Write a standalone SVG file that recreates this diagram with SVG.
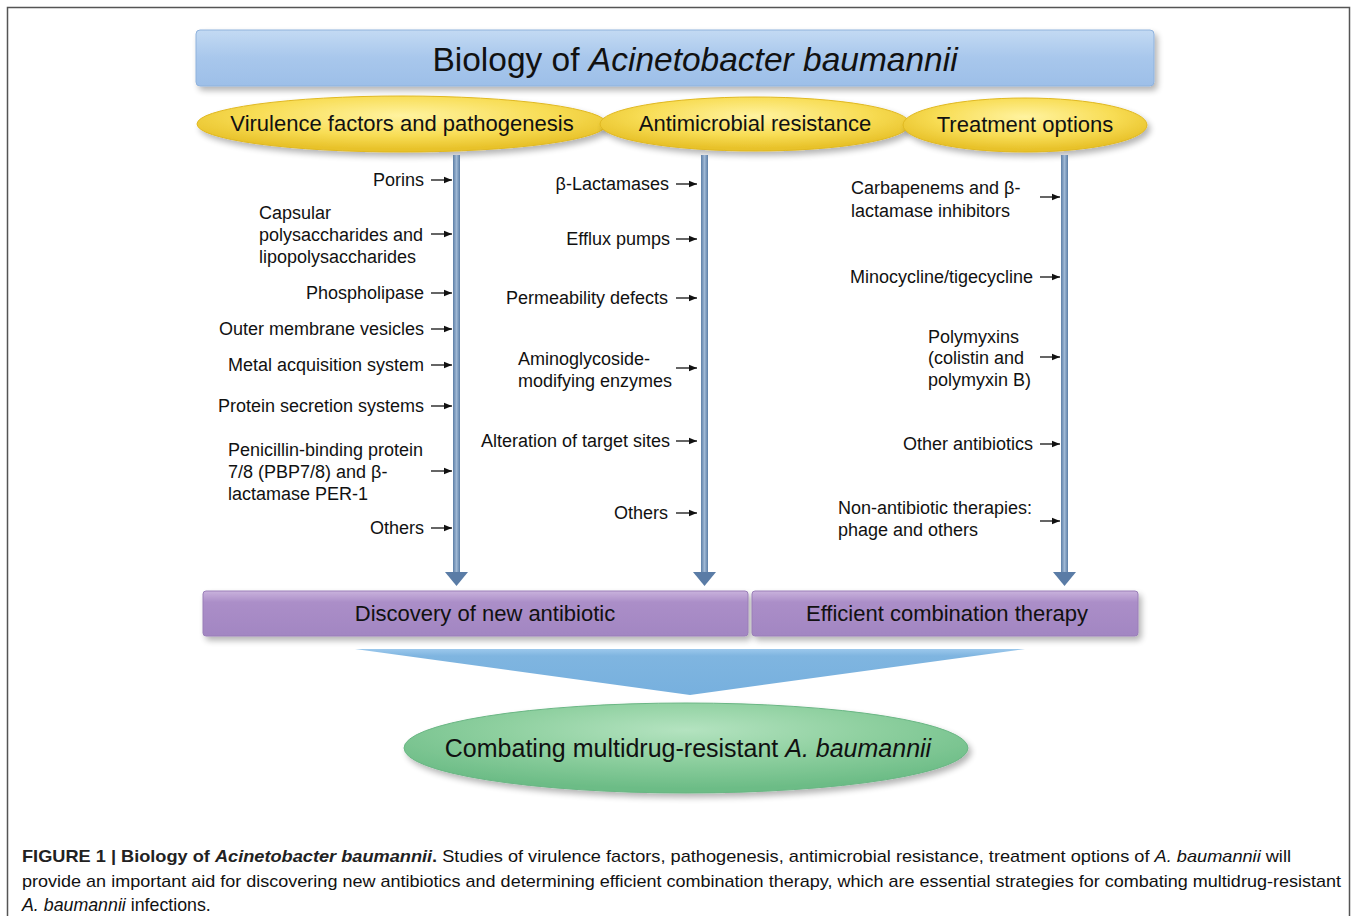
<svg xmlns="http://www.w3.org/2000/svg" width="1358" height="916" viewBox="0 0 1358 916">
<defs>
<linearGradient id="gTitle" x1="0" y1="0" x2="0" y2="1">
<stop offset="0" stop-color="#c3daf3"/><stop offset="0.5" stop-color="#a8c7ec"/><stop offset="1" stop-color="#9dbfe8"/>
</linearGradient>
<radialGradient id="gYellow" cx="0.5" cy="0.35" r="0.6">
<stop offset="0" stop-color="#fff3a0"/><stop offset="0.6" stop-color="#f8dd55"/><stop offset="1" stop-color="#e8c22a"/>
</radialGradient>
<linearGradient id="gPurple" x1="0" y1="0" x2="0" y2="1">
<stop offset="0" stop-color="#c9b2dc"/><stop offset="0.25" stop-color="#ab8ec8"/><stop offset="1" stop-color="#a286c2"/>
</linearGradient>
<radialGradient id="gGreen" cx="0.5" cy="0.3" r="0.65">
<stop offset="0" stop-color="#b4e3c0"/><stop offset="0.5" stop-color="#8fd0a0"/><stop offset="1" stop-color="#6cbc86"/>
</radialGradient>
<linearGradient id="gFunnel" x1="0" y1="0" x2="0" y2="1">
<stop offset="0" stop-color="#9cc8ec"/><stop offset="0.15" stop-color="#7fb5e0"/><stop offset="1" stop-color="#77b0de"/>
</linearGradient>
<linearGradient id="gShaft" x1="0" y1="0" x2="1" y2="0">
<stop offset="0" stop-color="#5c7ea6"/><stop offset="0.5" stop-color="#9fb8d4"/><stop offset="1" stop-color="#5c7ea6"/>
</linearGradient>
<filter id="sh" x="-10%" y="-30%" width="120%" height="170%">
<feGaussianBlur in="SourceAlpha" stdDeviation="3"/>
<feOffset dx="3" dy="4" result="b"/>
<feComponentTransfer><feFuncA type="linear" slope="0.3"/></feComponentTransfer>
<feMerge><feMergeNode/><feMergeNode in="SourceGraphic"/></feMerge>
</filter>
<marker id="ah" viewBox="0 0 10 10" refX="10" refY="5" markerWidth="8" markerHeight="8" markerUnits="userSpaceOnUse" orient="auto">
<path d="M0,1 L10,5 L0,9 z" fill="#111"/>
</marker>
</defs>
<style>
text{font-family:"Liberation Sans",Arial,sans-serif;fill:#111}
.it{font-size:18px}
.hd{font-size:22px;text-anchor:middle}
.sm{stroke:#111;stroke-width:1.3;fill:none}
.cap{font-size:17px;fill:#333}
</style>

<path d="M7.5,916 V7.5 H1349.5 V916" fill="none" stroke="#555" stroke-width="1.5"/>

<g id="title">
<rect x="196" y="30" width="958" height="56" rx="4" fill="url(#gTitle)" stroke="#8fb2dc" filter="url(#sh)"/>
<text x="695" y="71" font-size="33.5" text-anchor="middle">Biology of <tspan font-style="italic">Acinetobacter baumannii</tspan></text>
</g>

<g id="virulence">
<ellipse cx="402" cy="124" rx="205" ry="28" fill="url(#gYellow)" stroke="#e0b820" filter="url(#sh)"/>
<text class="hd" x="402" y="131">Virulence factors and pathogenesis</text>
</g>
<g id="resistance">
<ellipse cx="755" cy="124" rx="155" ry="27" fill="url(#gYellow)" stroke="#e0b820" filter="url(#sh)"/>
<text class="hd" x="755" y="131">Antimicrobial resistance</text>
</g>
<g id="treatment">
<ellipse cx="1025" cy="125" rx="122" ry="27" fill="url(#gYellow)" stroke="#e0b820" filter="url(#sh)"/>
<text class="hd" x="1025" y="132">Treatment options</text>
</g>

<g id="connectors">
<rect x="453" y="155" width="7" height="420" fill="url(#gShaft)"/>
<path d="M445,572 L468,572 L456.5,586 z" fill="#5a7ca6"/>
<rect x="701" y="155" width="7" height="420" fill="url(#gShaft)"/>
<path d="M693,572 L716,572 L704.5,586 z" fill="#5a7ca6"/>
<rect x="1061" y="155" width="7" height="420" fill="url(#gShaft)"/>
<path d="M1053,572 L1076,572 L1064.5,586 z" fill="#5a7ca6"/>

<g class="sm" marker-end="url(#ah)">
<path d="M431,180 H452"/>
<path d="M431,234 H452"/>
<path d="M431,293 H452"/>
<path d="M431,329 H452"/>
<path d="M431,365 H452"/>
<path d="M431,406 H452"/>
<path d="M431,471 H452"/>
<path d="M431,528 H452"/>

<path d="M676,184 H697"/>
<path d="M676,239 H697"/>
<path d="M676,298 H697"/>
<path d="M676,368 H697"/>
<path d="M676,441 H697"/>
<path d="M676,513 H697"/>

<path d="M1040,197 H1060"/>
<path d="M1040,277 H1060"/>
<path d="M1040,357 H1060"/>
<path d="M1040,444 H1060"/>
<path d="M1040,521 H1060"/>
</g>
</g>

<g id="col1-items" class="it">
<text x="424" y="186" text-anchor="end">Porins</text>
<text x="259" y="219">Capsular</text>
<text x="259" y="241">polysaccharides and</text>
<text x="259" y="263">lipopolysaccharides</text>
<text x="424" y="299" text-anchor="end">Phospholipase</text>
<text x="424" y="335" text-anchor="end">Outer membrane vesicles</text>
<text x="424" y="371" text-anchor="end">Metal acquisition system</text>
<text x="424" y="412" text-anchor="end">Protein secretion systems</text>
<text x="228" y="456">Penicillin-binding protein</text>
<text x="228" y="478">7/8 (PBP7/8) and β-</text>
<text x="228" y="500">lactamase PER-1</text>
<text x="424" y="534" text-anchor="end">Others</text>
</g>

<g id="col2-items" class="it">
<text x="669" y="190" text-anchor="end">β-Lactamases</text>
<text x="670" y="245" text-anchor="end">Efflux pumps</text>
<text x="668" y="304" text-anchor="end">Permeability defects</text>
<text x="518" y="365">Aminoglycoside-</text>
<text x="518" y="387">modifying enzymes</text>
<text x="670" y="447" text-anchor="end">Alteration of target sites</text>
<text x="668" y="519" text-anchor="end">Others</text>
</g>

<g id="col3-items" class="it">
<text x="851" y="194">Carbapenems and β-</text>
<text x="851" y="217">lactamase inhibitors</text>
<text x="1033" y="283" text-anchor="end">Minocycline/tigecycline</text>
<text x="928" y="343">Polymyxins</text>
<text x="928" y="364">(colistin and</text>
<text x="928" y="386">polymyxin B)</text>
<text x="1033" y="450" text-anchor="end">Other antibiotics</text>
<text x="838" y="514">Non-antibiotic therapies:</text>
<text x="838" y="536">phage and others</text>
</g>

<g id="discovery">
<rect x="203" y="591" width="545" height="45" rx="3" fill="url(#gPurple)" stroke="#9a7fb8" filter="url(#sh)"/>
<text class="hd" x="485" y="621">Discovery of new antibiotic</text>
</g>
<g id="combination">
<rect x="752" y="591" width="386" height="45" rx="3" fill="url(#gPurple)" stroke="#9a7fb8" filter="url(#sh)"/>
<text class="hd" x="947" y="621">Efficient combination therapy</text>
</g>

<g id="funnel">
<path d="M355,649 L1025,649 L690,695 z" fill="url(#gFunnel)"/>
</g>

<g id="goal">
<ellipse cx="686" cy="748" rx="282" ry="45" fill="url(#gGreen)" stroke="#6ab684" filter="url(#sh)"/>
<text x="688" y="757" font-size="25" text-anchor="middle">Combating multidrug-resistant <tspan font-style="italic">A. baumannii</tspan></text>
</g>

<g id="caption" class="cap">
<text x="22" y="862" textLength="1269" lengthAdjust="spacingAndGlyphs"><tspan font-weight="bold" fill="#222">FIGURE 1 | Biology of <tspan font-style="italic">Acinetobacter baumannii</tspan>.</tspan> Studies of virulence factors, pathogenesis, antimicrobial resistance, treatment options of <tspan font-style="italic">A. baumannii</tspan> will</text>
<text x="22" y="887" textLength="1319" lengthAdjust="spacingAndGlyphs">provide an important aid for discovering new antibiotics and determining efficient combination therapy, which are essential strategies for combating multidrug-resistant</text>
<text x="22" y="911" font-size="17.8"><tspan font-style="italic">A. baumannii</tspan> infections.</text>
</g>
</svg>
